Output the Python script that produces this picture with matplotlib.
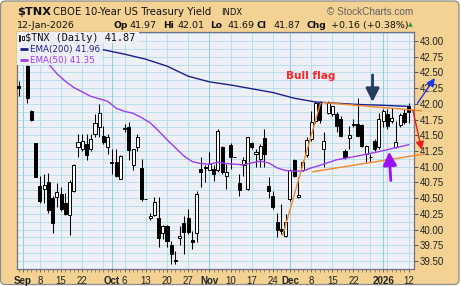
import numpy as np
import pandas as pd
import matplotlib
matplotlib.use("Agg")
import matplotlib.pyplot as plt
from matplotlib.patches import Rectangle, FancyBboxPatch
from matplotlib.transforms import ScaledTranslation

# ------------------------------------------------------------------ data
start_date = "2025-08-29"
end_date = "2026-01-12"
market_holidays = ["2025-09-01", "2025-11-27", "2025-12-25", "2026-01-01"]

nan = float("nan")
opens = [42.28, nan, 42.61, 41.88, 41.37, 40.70, 40.65, 40.75, 40.50, 40.52,
         40.56, 40.42, 40.23, 40.62, 41.31, 41.28, 41.36, 41.28, 41.52, 41.63,
         41.49, 41.32, 41.08, 41.07, 40.80, 41.60, 41.63, 41.02, 41.32, 40.98,
         40.49, 40.18, 40.23, 40.18, 39.94, 40.05, 39.76, 39.52, 39.87, 40.10,
         40.18, 39.83, 39.94, 40.97, 40.99, 40.95, 40.97, 40.94, 41.31, 40.86,
         41.35, 41.15, 40.74, 41.02, 40.65, 41.37, 41.20, 41.12, 41.45, 40.70,
         40.54, 40.12, 40.01, 39.89, 40.49, 41.10, 40.52, 40.94, 41.18, 41.44,
         41.73, 42.02, 41.28, 41.86, 41.84, 41.84, 41.76, 41.25, 41.46, 41.67,
         41.68, 41.67, 41.21, 41.16, 41.41, 41.31, 41.73, 41.84, 41.72, 41.32,
         41.67, 41.86, 41.97]
highs = [42.37, nan, 42.62, 41.90, 41.38, 40.86, 40.89, 40.90, 40.53, 40.74,
         40.68, 40.58, 40.79, 41.04, 41.52, 41.52, 41.52, 41.52, 41.84, 41.99,
         41.65, 41.52, 41.28, 41.28, 41.19, 41.68, 41.71, 41.28, 41.52, 41.12,
         40.49, 40.27, 40.52, 40.52, 40.08, 40.08, 39.82, 39.66, 40.05, 40.22,
         40.33, 39.98, 40.62, 41.15, 41.02, 41.23, 41.02, 41.60, 41.33, 41.04,
         41.37, 41.15, 40.88, 41.16, 41.48, 41.40, 41.28, 41.36, 41.60, 40.84,
         40.62, 40.27, 40.41, 40.25, 40.97, 41.12, 40.84, 41.10, 41.47, 41.89,
         42.05, 42.05, 41.55, 42.04, 41.97, 41.87, 41.81, 41.28, 41.65, 41.76,
         42.10, 41.68, 41.35, 41.20, 41.44, 41.86, 41.92, 41.92, 41.93, 41.72,
         41.85, 41.92, 42.01]
lows = [42.13, nan, 42.02, 41.72, 40.83, 40.43, 40.43, 40.26, 39.94, 40.36,
        40.30, 40.23, 39.91, 40.59, 41.15, 41.25, 41.10, 41.25, 41.47, 41.47,
        41.36, 41.20, 40.88, 40.83, 40.80, 41.55, 41.10, 40.94, 41.25, 40.46,
        40.49, 40.15, 40.22, 39.73, 39.85, 39.73, 39.45, 39.45, 39.76, 39.61,
        39.93, 39.69, 39.80, 40.67, 40.75, 40.94, 40.78, 40.91, 40.88, 40.65,
        40.96, 41.15, 40.54, 40.86, 40.63, 41.28, 40.99, 40.99, 40.99, 40.51,
        40.33, 39.88, 39.93, 39.88, 40.46, 40.83, 40.51, 40.93, 41.15, 41.41,
        41.70, 41.70, 40.99, 41.84, 41.81, 41.56, 41.47, 41.12, 41.28, 41.63,
        41.47, 41.31, 41.07, 41.07, 41.25, 41.28, 41.63, 41.60, 41.70, 41.30,
        41.63, 41.68, 41.69]
closes = [42.25, nan, 42.10, 41.74, 40.84, 40.46, 40.71, 40.31, 40.10, 40.59,
          40.32, 40.25, 40.75, 41.02, 41.39, 41.41, 41.18, 41.44, 41.70, 41.86,
          41.40, 41.47, 41.06, 40.86, 41.17, 41.62, 41.26, 41.28, 41.47, 40.49,
          40.49, 40.21, 40.44, 39.86, 40.05, 39.82, 39.61, 39.50, 39.90, 39.96,
          39.96, 39.81, 40.56, 40.91, 40.98, 41.05, 40.88, 41.57, 40.91, 40.91,
          41.15, 41.15, 40.63, 41.11, 41.47, 41.32, 41.24, 41.33, 41.20, 40.61,
          40.36, 40.00, 39.98, 40.12, 40.94, 40.86, 40.55, 41.07, 41.42, 41.71,
          42.02, 41.74, 41.41, 42.02, 41.96, 41.64, 41.49, 41.15, 41.51, 41.68,
          41.49, 41.33, 41.33, 41.15, 41.28, 41.76, 41.88, 41.64, 41.78, 41.39,
          41.82, 41.71, 41.87]

ema200_idx = [20, 25, 30, 35, 40, 45, 50, 55, 60, 65, 70, 75, 80, 85, 92]
ema200_val = [42.86, 42.79, 42.71, 42.60, 42.44, 42.35, 42.30, 42.24, 42.18,
              42.09, 42.03, 42.01, 41.99, 41.98, 41.96]
ema50_idx = [7, 9, 11, 13, 15, 17, 19, 21, 23, 25, 27, 29, 31, 33, 35, 37, 39,
             41, 43, 45, 47, 49, 51, 53, 55, 57, 59, 61, 63, 65, 67, 69, 71,
             75, 80, 85, 92]
ema50_val = [42.64, 42.48, 42.36, 42.26, 42.19, 42.12, 42.08, 42.04, 41.93,
             41.88, 41.85, 41.78, 41.70, 41.57, 41.43, 41.30, 41.17, 41.08,
             41.05, 41.04, 41.07, 41.05, 41.04, 41.03, 41.06, 41.09, 41.06,
             40.98, 40.94, 40.93, 40.93, 40.98, 41.02, 41.11, 41.17, 41.24,
             41.35]

y_ticks = [39.50, 39.75, 40.00, 40.25, 40.50, 40.75, 41.00, 41.25, 41.50,
           41.75, 42.00, 42.25, 42.50, 42.75, 43.00]

# annotation drawings: (trading-day index, yield)
flag_pole = [(62.3, 39.91), (71.2, 42.01)]
flag_top = [(71.9, 42.02), (95.1, 41.89)]
flag_bottom = [(69.4, 40.92), (95.5, 41.20)]
navy_arrow = [(83.5, 42.46), (83.5, 42.03)]
purple_arrow = [(87.8, 40.78), (87.4, 41.24)]
blue_arrow = [(94.1, 42.01), (98.2, 42.41)]
red_arrow = [(93.0, 41.90), (95.1, 41.27)]
flag_label = ("Bull flag", 69.0, 42.44)

symbol = "$TNX"
title = "CBOE 10-Year US Treasury Yield"
exchange = "INDX"
quote_date = "12-Jan-2026"
quote_fields = [("Op", "41.97"), ("Hi", "42.01"), ("Lo", "41.69"),
                ("Cl", "41.87"), ("Chg", "+0.16 (+0.38%)")]
legend_rows = ["$TNX (Daily) 41.87", "EMA(200) 41.96", "EMA(50) 41.35"]

# ------------------------------------------------------------------ style
TAN = "#F3D293"
PLOT_BG = "#EFEFF7"
GRID = "#B0DEEB"
GRID_M = "#8FCDE2"
NAVY = "#1E1E88"
PURPLE = "#9D3CF5"
ORANGE = "#F08A2A"

plt.rcParams["font.family"] = ["DejaVu Sans"]

W, H = 461, 286
fig = plt.figure(figsize=(W / 100, H / 100), dpi=100)
fig.patch.set_facecolor("white")

def fx(px):
    return px / W

def fy(py):
    return 1 - py / H

panel = FancyBboxPatch((0.005, 0.015), 4.585, 2.835,
                       boxstyle="round,pad=0,rounding_size=0.05",
                       transform=fig.dpi_scale_trans, facecolor=TAN,
                       edgecolor="#8C8C8C", lw=0.9, zorder=-10)
fig.patches.append(panel)

AX_L, AX_R, AX_T, AX_B = 17, 414.3, 32, 269.3
ax = fig.add_axes([fx(AX_L), fy(AX_B), (AX_R - AX_L) / W, (AX_B - AX_T) / H])
ax.set_zorder(2)
ax.set_facecolor(PLOT_BG)

dates = pd.bdate_range(start_date, end_date).drop(pd.to_datetime(market_holidays))
n = len(dates)
xs = np.arange(n)

ax.set_xlim(-0.4, 93.35)
ax.set_ylim(39.368, 43.143)

# grid
for yv in np.arange(39.375, 43.15, 0.125):
    ax.axhline(yv, color=GRID, lw=0.6, zorder=0.5)
month_starts = [i for i in range(1, n) if dates[i].month != dates[i - 1].month]
week_starts = [i for i in range(1, n)
               if dates[i].isocalendar()[1] != dates[i - 1].isocalendar()[1]]
for i in week_starts:
    if i not in month_starts:
        ax.axvline(i, color=GRID, lw=0.6, zorder=0.5)
for i in month_starts:
    ax.axvline(i, color=GRID_M, lw=0.7, zorder=0.6)

# candles
o = np.array(opens, float)
h = np.array(highs, float)
l = np.array(lows, float)
c = np.array(closes, float)
valid = ~np.isnan(o)
up = valid & (c >= o)
dn = valid & (c < o)
ax.vlines(xs[valid], l[valid], h[valid], color="black", lw=0.75, zorder=3)
ax.bar(xs[up], (c - o)[up], bottom=o[up], width=0.72, color="white",
       edgecolor="black", lw=0.7, zorder=4)
ax.bar(xs[dn], (o - c)[dn], bottom=c[dn], width=0.72, color="black",
       edgecolor="black", lw=0.7, zorder=4)

# EMAs
ax.plot(ema200_idx, ema200_val, color=NAVY, lw=1.0, zorder=5)
ax.plot(ema50_idx, ema50_val, color=PURPLE, lw=1.0, zorder=5)

# y axis (right)
ax.yaxis.tick_right()
ax.set_yticks(y_ticks)
ax.set_yticklabels(["%.2f" % v for v in y_ticks])
ax.tick_params(axis="y", which="major", length=3, width=0.7, color="#555555",
               pad=1, labelsize=7, labelcolor="#222222",
               labelfontfamily="Liberation Sans")

# x axis
month_names = {9: "Sep", 10: "Oct", 11: "Nov", 12: "Dec", 1: "2026"}
tick_pos, tick_lab, tick_bold = [], [], []
for i in sorted(set(week_starts) | set(month_starts)):
    if i in month_starts:
        tick_pos.append(i)
        tick_lab.append(month_names[dates[i].month])
        tick_bold.append(True)
    else:
        near = [m for m in month_starts if 0 < m - i <= 3 or 0 < i - m <= 2]
        if near:
            continue
        tick_pos.append(i)
        tick_lab.append(str(dates[i].day))
        tick_bold.append(False)
ax.set_xticks(tick_pos)
ax.set_xticklabels(tick_lab)
xlabels = ax.get_xticklabels()
for lbl, b in zip(xlabels, tick_bold):
    if b:
        lbl.set_fontweight("bold")
# the last date label sits a little left of its day, as in the original
xlabels[-1].set_transform(xlabels[-1].get_transform()
                          + ScaledTranslation(-5.5 / 100, 0, fig.dpi_scale_trans))
ax.set_xticks(xs, minor=True)
ax.tick_params(axis="x", which="major", length=2, width=0.6, color="#555555",
               pad=2.5, labelsize=7, labelcolor="#222222",
               labelfontfamily="Liberation Sans")
ax.tick_params(axis="x", which="minor", length=2, width=0.5, color="#666666")

for s in ax.spines.values():
    s.set_color("#70708A")
    s.set_linewidth(0.9)

# legend block (opaque, like the original)
def axf(px, py):
    return ((px - AX_L) / (AX_R - AX_L), (AX_B - py) / (AX_B - AX_T))

x0, y0 = axf(AX_L, 65)
x1, y1 = axf(101, AX_T)
ax.add_patch(Rectangle((x0, y0), x1 - x0, y1 - y0, transform=ax.transAxes,
                       facecolor=PLOT_BG, edgecolor="none", zorder=6))
x0, y0 = axf(AX_L, 43)
x1, y1 = axf(139, AX_T)
ax.add_patch(Rectangle((x0, y0), x1 - x0, y1 - y0, transform=ax.transAxes,
                       facecolor=PLOT_BG, edgecolor="none", zorder=6))
# small candle icon
bx, by = axf(18.6, 40.5)
bx2, by2 = axf(20.4, 35.0)
ax.add_patch(Rectangle((bx, by), bx2 - bx, by2 - by, transform=ax.transAxes,
                       facecolor="black", edgecolor="black", lw=0.5, zorder=7))
bx, by = axf(21.8, 40.0)
bx2, by2 = axf(23.6, 36.2)
ax.add_patch(Rectangle((bx, by), bx2 - bx, by2 - by, transform=ax.transAxes,
                       facecolor="white", edgecolor="black", lw=0.6, zorder=7))
tx, ty = axf(25.0, 40.6)
ax.text(tx, ty, legend_rows[0], transform=ax.transAxes, fontsize=7.4,
        family="DejaVu Sans Mono", color="#111111", va="baseline", ha="left",
        zorder=8)
for k, (col, base) in enumerate([(NAVY, 52.3), (PURPLE, 63.4)]):
    lx0, ly = axf(19.5, base - 3.3)
    lx1, _ = axf(27.5, base - 3.3)
    ax.plot([lx0, lx1], [ly, ly], transform=ax.transAxes, color=col, lw=2.0,
            solid_capstyle="butt", zorder=8)
    tx, ty = axf(30, base)
    ax.text(tx, ty, legend_rows[k + 1], transform=ax.transAxes, fontsize=6.3,
            color=col, va="baseline", ha="left", zorder=8)

# pattern drawing
for seg in (flag_pole, flag_top, flag_bottom):
    ax.plot([seg[0][0], seg[1][0]], [seg[0][1], seg[1][1]], color=ORANGE,
            lw=1.0, zorder=7, clip_on=False)

def arrow(seg, color, lw, ms):
    ax.annotate("", xy=seg[1], xytext=seg[0], annotation_clip=False,
                arrowprops=dict(arrowstyle="-|>,head_length=0.4,head_width=0.2",
                                color=color, lw=lw, mutation_scale=ms,
                                shrinkA=0, shrinkB=0), zorder=9)

arrow(navy_arrow, "#243A5E", 2.0, 20)
arrow(purple_arrow, "#9A10FF", 2.0, 20)
arrow(blue_arrow, "#1C3BE0", 1.0, 12)
arrow(red_arrow, "#E81C1C", 1.0, 12)
ax.text(flag_label[1], flag_label[2], flag_label[0], color="#FF2424",
        fontsize=7.6, fontweight="bold", ha="center", va="center", zorder=9)

# header
fig.text(fx(16.7), fy(15), symbol, fontsize=8.2, fontweight="bold",
         color="#111111", va="baseline", ha="left")
fig.text(fx(53), fy(15), title, fontsize=7.3, color="#111111",
         va="baseline", ha="left")
fig.text(fx(221.5), fy(15), exchange, fontsize=6.0, color="#111111",
         va="baseline", ha="left")
fig.text(fx(413), fy(15), "\u00a9 StockCharts.com", fontsize=7.2,
         color="#606060", va="baseline", ha="right", family="Liberation Sans")
fig.text(fx(17.3), fy(28.3), quote_date, fontsize=6.8, color="#111111",
         va="baseline", ha="left")
field_x = [(113.3, 129.5), (163.3, 177.5), (210, 227), (256.7, 273.5),
           (306.7, 331)]
for (lab, val), (lx, vx) in zip(quote_fields, field_x):
    fig.text(fx(lx), fy(28.3), lab, fontsize=6.6, fontweight="bold",
             color="#111111", va="baseline", ha="left")
    fig.text(fx(vx), fy(28.3), val, fontsize=6.8, color="#111111",
             va="baseline", ha="left")
fig.text(fx(410.5), fy(25), "\u25b2", fontsize=4.5, color="#2E9A3A",
         va="center", ha="center")

fig.savefig("out.png", dpi=100, facecolor=fig.get_facecolor())
